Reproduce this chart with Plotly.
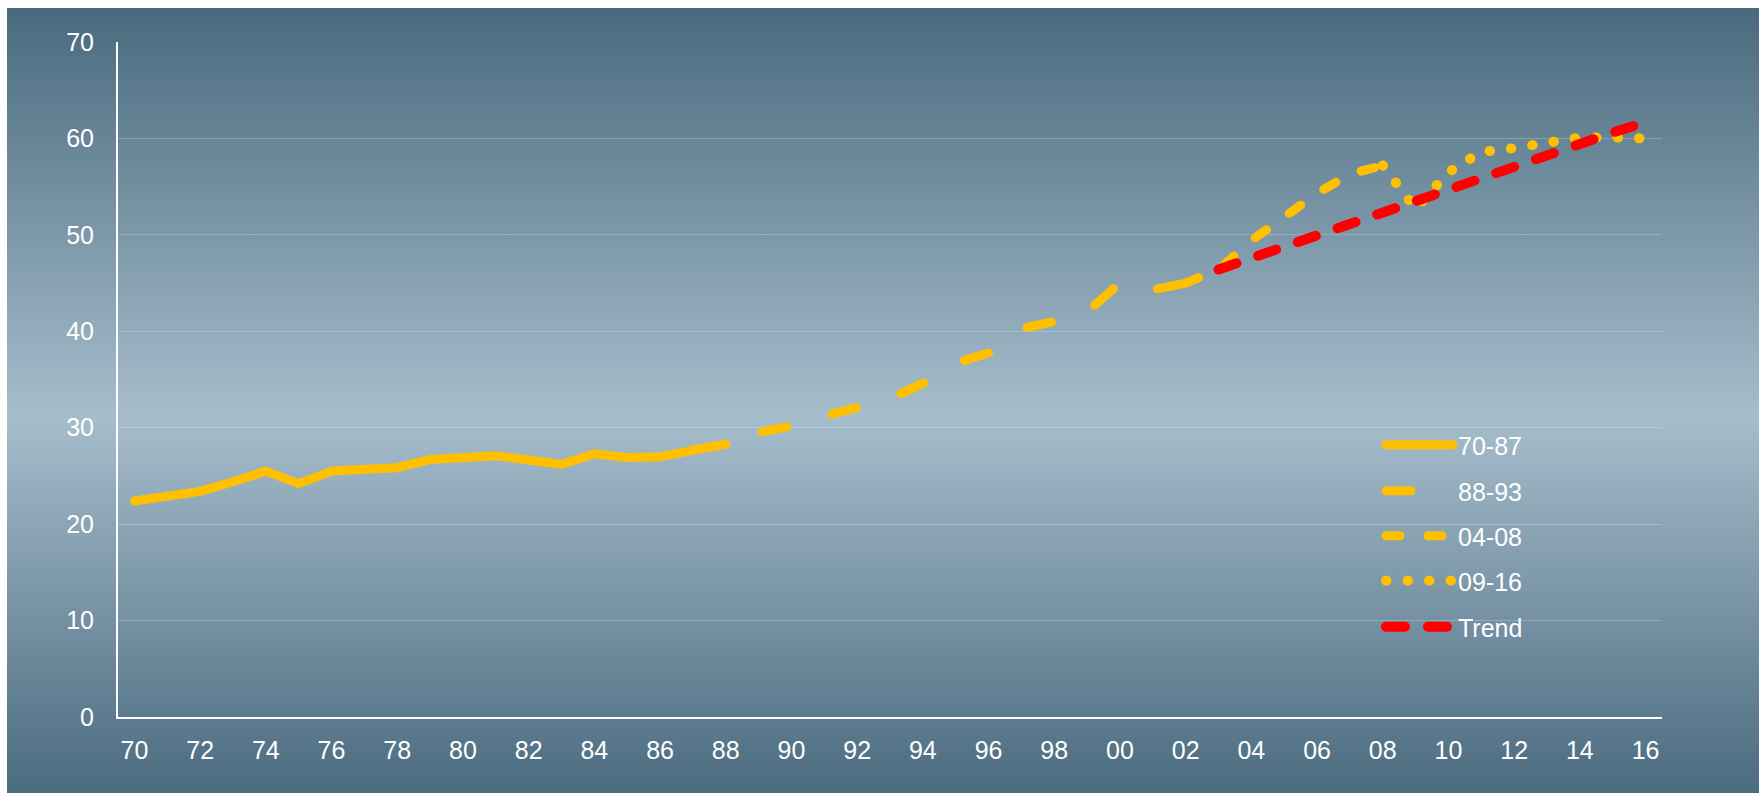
import base64
import plotly.graph_objects as go

# Yearly values, read per period
years_70_87 = list(range(1970, 1989))
vals_70_87 = [22.4, 22.85, 23.4, 24.4, 25.5, 24.2, 25.5, 25.7, 25.85, 26.7,
              26.9, 27.1, 26.65, 26.2, 27.3, 26.9, 27.0, 27.7, 28.3]

# The dashed period is drawn from 1987 so its first dash lies under the solid end
years_88_93 = list(range(1987, 2003))
vals_88_93 = [27.7, 28.3, 29.5, 30.2, 31.2, 32.2, 33.0, 34.6, 36.7, 37.75, 40.3,
              41.0, 42.0, 45.0, 44.3, 45.0]

years_04_08 = list(range(2002, 2009))
vals_04_08 = [45.0, 46.4, 49.4, 51.8, 54.3, 56.3, 57.2]

years_09_16 = list(range(2008, 2017))
vals_09_16 = [57.2, 52.7, 56.5, 58.6, 59.0, 59.5, 60.1, 60.1, 60.0]

years_trend = list(range(2003, 2017))
vals_trend = [46.4, 47.6, 48.8, 49.9, 51.1, 52.3, 53.5, 54.7, 55.8, 57.0,
              58.2, 59.4, 60.6, 61.7]

tick_years = list(range(1970, 2017, 2))
tick_text = [f"{y % 100:02d}" for y in tick_years]

YELLOW = "#FFC000"
RED = "#FF0000"
FONT = "Liberation Sans, Arial, sans-serif"

# Plot area in pixels (figure 1759 x 793)
W, H = 1759, 793
L, R, T, B = 118, 97, 42, 76
PW, PH = W - L - R, H - T - B

series = [
    ("70-87", years_70_87, vals_70_87, YELLOW, 9, "solid", "legend"),
    ("88-93", years_88_93, vals_88_93, YELLOW, 9, "25px,47px", "legend2"),
    ("04-08", years_04_08, vals_04_08, YELLOW, 9, "14px,28px", "legend3"),
    ("09-16", years_09_16, vals_09_16, YELLOW, 10, "0.5px,21px", "legend4"),
    ("Trend", years_trend, vals_trend, RED, 10, "19px,23px", "legend5"),
]

fig = go.Figure()
for name, xs, ys, color, width, dash, leg in series:
    fig.add_trace(go.Scatter(
        x=xs, y=ys, mode="lines", name=name, legend=leg,
        line=dict(color=color, width=width, dash=dash),
        hoverinfo="skip",
    ))

# Vertical blue-grey gradient behind the whole chart
svg = (
    '<svg xmlns="http://www.w3.org/2000/svg" width="100" height="100" '
    'preserveAspectRatio="none" viewBox="0 0 100 100">'
    '<defs><linearGradient id="g" x1="0" y1="0" x2="0" y2="1">'
    '<stop offset="0" stop-color="#496a7e"/>'
    '<stop offset="0.52" stop-color="#a6bdcb"/>'
    '<stop offset="1" stop-color="#4b6b80"/>'
    '</linearGradient></defs>'
    '<rect width="100" height="100" fill="url(#g)"/></svg>'
)
svg_uri = "data:image/svg+xml;base64," + base64.b64encode(svg.encode()).decode()

bg_x0, bg_y0 = 7, 8
fig.add_layout_image(
    source=svg_uri, xref="paper", yref="paper",
    x=(bg_x0 - L) / PW, y=(H - B - bg_y0) / PH,
    sizex=(W - bg_x0) / PW, sizey=(H - bg_y0) / PH,
    xanchor="left", yanchor="top", sizing="stretch", layer="below",
)

# One legend per entry so the rows sit at the chosen spacing
legend_rows_px = [445, 491, 536, 581, 627]
legend_x_px = 1381
legend_cfg = {}
for i, ypx in enumerate(legend_rows_px):
    key = "legend" if i == 0 else f"legend{i + 1}"
    legend_cfg[key] = dict(
        x=(legend_x_px - L) / PW, y=(H - B - ypx) / PH,
        xanchor="left", yanchor="middle",
        bgcolor="rgba(0,0,0,0)", borderwidth=0,
        font=dict(family=FONT, size=25, color="white"),
        itemwidth=67, itemclick=False, itemdoubleclick=False,
    )

fig.update_layout(
    width=W, height=H,
    margin=dict(l=L, r=R, t=T, b=B, pad=0),
    paper_bgcolor="white",
    plot_bgcolor="rgba(0,0,0,0)",
    showlegend=True,
    font=dict(family=FONT, size=25, color="white"),
    xaxis=dict(
        range=[1969.5, 2016.5], tickmode="array",
        tickvals=tick_years, ticktext=tick_text,
        showgrid=False, zeroline=False,
        showline=True, linecolor="white", linewidth=2,
        ticks="", ticklabelstandoff=10,
        tickfont=dict(family=FONT, size=25, color="white"),
        fixedrange=True,
    ),
    yaxis=dict(
        range=[0, 70], tickmode="array", tickvals=list(range(0, 71, 10)),
        showgrid=True, gridcolor="rgba(255,255,255,0.22)", gridwidth=1,
        zeroline=False,
        showline=True, linecolor="white", linewidth=2,
        ticks="", ticklabelstandoff=17,
        tickfont=dict(family=FONT, size=25, color="white"),
        fixedrange=True,
    ),
    **legend_cfg,
)

# Rounded line ends for the dashed and dotted strokes (plot and legend)
post = """
var gd = document.getElementById('{plot_id}');
function roundCaps() {
  gd.querySelectorAll('path.js-line').forEach(function (p) {
    p.style.strokeLinecap = 'round';
    p.style.strokeLinejoin = 'round';
  });
}
roundCaps();
gd.on('plotly_afterplot', roundCaps);
"""

fig.write_html("out.html", post_script=post, config={"displayModeBar": False})
